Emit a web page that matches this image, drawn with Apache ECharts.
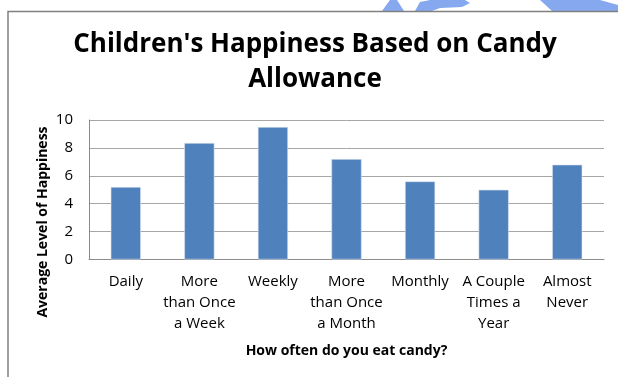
<!DOCTYPE html>
<html>
<head>
<meta charset="utf-8">
<script src="https://cdn.jsdelivr.net/npm/echarts@6/dist/echarts.min.js"></script>
<style>
html,body{margin:0;padding:0;background:#fff;}
#chart{width:618px;height:377px;}
</style>
</head>
<body>
<div id="chart"></div>
<script>
const categories = [
  "Daily",
  "More\nthan Once\na Week",
  "Weekly",
  "More\nthan Once\na Month",
  "Monthly",
  "A Couple\nTimes a\nYear",
  "Almost\nNever"
];
const happiness = [5.2, 8.35, 9.5, 7.2, 5.6, 5.0, 6.8];
const yTicks = { min: 0, max: 10, interval: 2 };
const titleText = "Children's Happiness Based on Candy\nAllowance";
const xAxisTitle = "How often do you eat candy?";
const yAxisTitle = "Average Level of Happiness";

const chart = echarts.init(document.getElementById('chart'), null, { renderer: 'canvas' });
const FONT = "'Open Sans', 'Liberation Sans', sans-serif";
chart.setOption({
  animation: false,
  backgroundColor: '#ffffff',
  title: {
    text: titleText,
    left: 310,
    textAlign: 'center',
    top: 22,
    textStyle: {
      fontFamily: FONT,
      fontWeight: 'bold',
      fontSize: 26,
      lineHeight: 35,
      color: '#000000'
    }
  },
  graphic: [
    {
      type: 'polygon',
      silent: true,
      shape: { points: [[382, 11], [390, 0], [397, 0], [404, 11]] },
      style: { fill: '#86a8ee' }
    },
    {
      type: 'polygon',
      silent: true,
      shape: { points: [[415, 11], [420, 2], [430, 0], [465, 0], [470, 3], [462, 7], [440, 8], [432, 11]] },
      style: { fill: '#86a8ee' }
    },
    {
      type: 'polygon',
      silent: true,
      shape: { points: [[540, 0], [600, 0], [618, 5], [618, 11], [552, 11]] },
      style: { fill: '#86a8ee' }
    },
    {
      type: 'rect',
      silent: true,
      shape: { x: 8, y: 11.5, width: 700, height: 500 },
      style: { fill: 'none', stroke: '#808080', lineWidth: 1.5 }
    },
    {
      type: 'text',
      silent: true,
      x: 43,
      y: 222,
      rotation: Math.PI / 2,
      style: {
        text: yAxisTitle,
        fontFamily: FONT,
        fontWeight: 'bold',
        fontSize: 14,
        fill: '#000',
        align: 'center',
        verticalAlign: 'middle'
      }
    }
  ],
  grid: { left: 89, right: 14, top: 120, bottom: 117.5, containLabel: false },
  xAxis: {
    type: 'category',
    data: categories,
    name: xAxisTitle,
    nameLocation: 'middle',
    nameGap: 85,
    nameTextStyle: { fontFamily: FONT, fontWeight: 'bold', fontSize: 14, color: '#000' },
    axisLine: { show: true, lineStyle: { color: '#8c8c8c', width: 1 } },
    axisTick: { show: false },
    axisLabel: {
      interval: 0,
      margin: 12,
      fontFamily: FONT,
      fontSize: 15,
      lineHeight: 21,
      color: '#000'
    }
  },
  yAxis: {
    type: 'value',
    min: yTicks.min,
    max: yTicks.max,
    interval: yTicks.interval,
    axisLine: { show: true, lineStyle: { color: '#8c8c8c', width: 1 } },
    axisTick: { show: false },
    axisLabel: { margin: 16, fontFamily: FONT, fontSize: 15, color: '#000' },
    splitLine: { show: true, lineStyle: { color: '#a6a6a6', width: 1 } }
  },
  series: [{
    type: 'bar',
    data: happiness,
    barWidth: '41%',
    itemStyle: { color: '#4f81bd', borderColor: '#dde6f2', borderWidth: 0.6 }
  }]
});
</script>
</body>
</html>
